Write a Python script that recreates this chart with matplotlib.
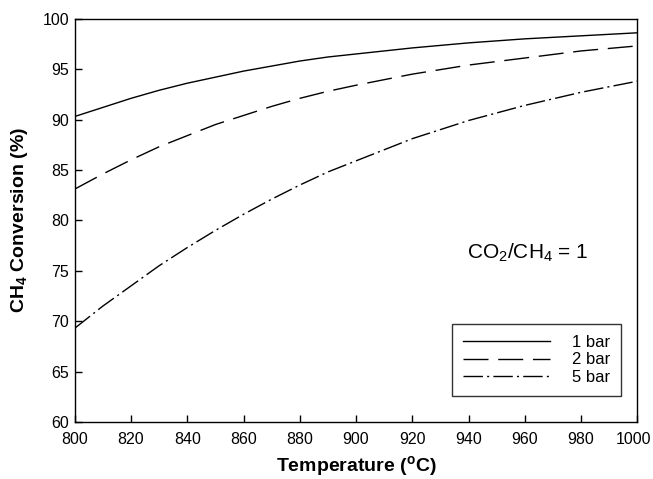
import matplotlib
matplotlib.use("Agg")
import matplotlib.pyplot as plt
import matplotlib.transforms as mtransforms

plt.rcParams['font.family'] = ['Liberation Sans', 'DejaVu Sans']
plt.rcParams['mathtext.fontset'] = 'custom'
plt.rcParams['mathtext.rm'] = 'Liberation Sans'
plt.rcParams['mathtext.bf'] = 'Liberation Sans:bold'
plt.rcParams['mathtext.it'] = 'Liberation Sans:italic'

temperature = [800, 810, 820, 830, 840, 850, 860, 870, 880, 890, 900, 920, 940, 960, 980, 1000]
conv_1bar = [90.3, 91.2, 92.1, 92.9, 93.6, 94.2, 94.8, 95.3, 95.8, 96.2, 96.5, 97.1, 97.6, 98.0, 98.3, 98.6]
conv_2bar = [83.1, 84.6, 86.0, 87.3, 88.4, 89.5, 90.4, 91.3, 92.1, 92.8, 93.4, 94.5, 95.4, 96.1, 96.8, 97.3]
conv_5bar = [69.3, 71.5, 73.5, 75.5, 77.3, 79.0, 80.6, 82.1, 83.5, 84.8, 85.9, 88.1, 89.9, 91.4, 92.7, 93.8]
labels = ['1 bar', '2 bar', '5 bar']
xticks = list(range(800, 1001, 20))
yticks = list(range(60, 101, 5))

fig = plt.figure(figsize=(6.53, 4.79), dpi=100)
ax = fig.add_axes([0.1145, 0.119, 0.8615, 0.842])

ax.plot(temperature, conv_1bar, color='black', lw=1.0, linestyle='-', label=labels[0])
ax.plot(temperature, conv_2bar, color='black', lw=1.0, linestyle=(0, (18, 7)), label=labels[1])
ax.plot(temperature, conv_5bar, color='black', lw=1.0, linestyle=(0, (14, 3, 1.5, 3)), label=labels[2])

ax.set_xlim(800, 1000)
ax.set_ylim(60, 100)
ax.set_xticks(xticks)
ax.set_yticks(yticks)
ax.tick_params(direction='in', length=5, width=1, labelsize=11.5)
ax.tick_params(axis='x', pad=7)
ax.tick_params(axis='y', pad=4)
for s in ax.spines.values():
    s.set_linewidth(1.0)

fig.canvas.draw()
last = ax.get_xticklabels()[-1]
last.set_transform(last.get_transform() + mtransforms.ScaledTranslation(-4 / 100, 0, fig.dpi_scale_trans))

ax.set_xlabel(r'Temperature ($^{\mathbf{o}}$C)', fontsize=14, fontweight='bold', labelpad=5)
ax.set_ylabel(r'CH$_{\mathbf{4}}$ Conversion (%)', fontsize=14, fontweight='bold', labelpad=9)

ax.text(0.805, 0.419, r'CO$_2$/CH$_4$ = 1', transform=ax.transAxes, fontsize=15,
        ha='center', va='center')

leg = ax.legend(loc='lower right', bbox_to_anchor=(0.9705, 0.065), fontsize=12,
                handlelength=5.2, handletextpad=1.3, borderpad=0.65, labelspacing=0.15,
                frameon=True, fancybox=False, edgecolor='black', borderaxespad=0.0)
leg.get_frame().set_linewidth(1.0)
leg.set_zorder(5)

fig.savefig('out.png', dpi=100)
